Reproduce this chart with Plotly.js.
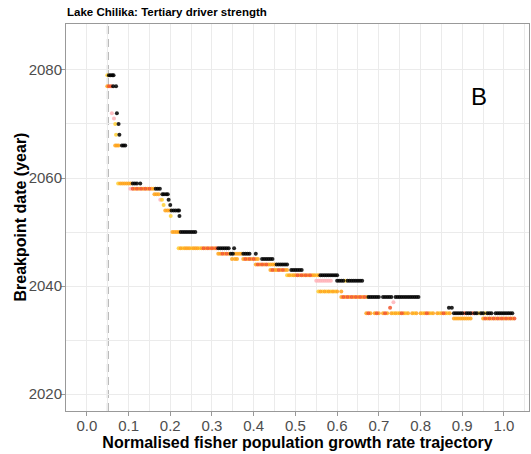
<!DOCTYPE html>
<html>
<head>
<meta charset="utf-8">
<script src="https://cdn.plot.ly/plotly-3.0.1.min.js"></script>
<style>html,body{margin:0;padding:0;background:#fff;}#chart{width:531px;height:454px;}</style>
</head>
<body>
<div id="chart"></div>
<script>
// Breakpoint year rows per driver-strength colour: [year, [x positions]]
const pinkRows = [
  [2072, [0.060]], [2071, [0.065]], [2058, [0.104]], [2056, [0.176]],
  [2041, [0.550, 0.555, 0.560, 0.565, 0.570, 0.575, 0.580, 0.585]],
  [2037, [0.735]]
];
const yellowRows = [
  [2079, [0.049]], [2070, [0.068]], [2068, [0.070]], [2059, [0.075]],
  [2056, [0.180]], [2055, [0.184]], [2053, [0.201]],
  [2047, [0.220, 0.230, 0.250, 0.270]],
  [2042, [0.480, 0.490, 0.550]],
  [2041, [0.620]],
  [2039, [0.555, 0.565, 0.575, 0.585, 0.595]],
  [2035, [0.735, 0.745, 0.765, 0.785, 0.805, 0.825, 0.845, 0.865, 0.940, 0.955]]
];
const orangeRows = [
  [2077, [0.049]],
  [2066, [0.068, 0.072, 0.076]],
  [2059, [0.080, 0.085, 0.090, 0.095, 0.100, 0.105]],
  [2058, [0.115, 0.125, 0.135, 0.145, 0.155, 0.160]],
  [2057, [0.162, 0.167, 0.172]],
  [2054, [0.188, 0.193, 0.198]],
  [2050, [0.205, 0.210, 0.215, 0.220]],
  [2047, [0.225, 0.235, 0.240, 0.245, 0.255, 0.260, 0.265, 0.275, 0.285, 0.295, 0.305]],
  [2046, [0.315, 0.320, 0.330, 0.340, 0.355, 0.360, 0.365, 0.370]],
  [2045, [0.348, 0.355, 0.360, 0.375, 0.385, 0.395, 0.405, 0.410]],
  [2044, [0.405, 0.415, 0.425, 0.435, 0.440, 0.445, 0.450]],
  [2043, [0.440, 0.450, 0.455, 0.465, 0.475, 0.480]],
  [2042, [0.485, 0.495, 0.500, 0.510, 0.520, 0.530, 0.540, 0.545, 0.555]],
  [2039, [0.560, 0.570, 0.580, 0.590, 0.600, 0.610]],
  [2038, [0.610, 0.620, 0.630, 0.640, 0.650, 0.660, 0.670]],
  [2035, [0.670, 0.680, 0.690, 0.700, 0.710, 0.720, 0.730, 0.740, 0.750, 0.760, 0.770, 0.780, 0.790, 0.800, 0.810, 0.820, 0.830, 0.840, 0.850, 0.860, 0.870]],
  [2034, [0.880, 0.885, 0.890, 0.895, 0.900, 0.905, 0.910, 0.915, 0.920, 0.950, 0.960, 0.970, 0.980, 0.990, 1.000, 1.010, 1.020]]
];
const redRows = [
  [2077, [0.053, 0.058]],
  [2058, [0.110, 0.120, 0.130, 0.140, 0.150]],
  [2047, [0.280, 0.290, 0.300, 0.310]],
  [2046, [0.325, 0.335]],
  [2045, [0.380, 0.390, 0.400]],
  [2044, [0.410, 0.420, 0.430]],
  [2043, [0.445, 0.460, 0.470]],
  [2042, [0.505, 0.515, 0.525, 0.535]],
  [2038, [0.615, 0.625, 0.635, 0.645, 0.655, 0.665]],
  [2036, [0.727]],
  [2035, [0.675, 0.695, 0.715, 0.755, 0.815, 0.855, 0.905, 0.925]],
  [2034, [0.955, 0.965, 0.975, 0.985, 0.995, 1.005, 1.015, 1.025]]
];
const blackRows = [
  [2079, [0.053, 0.057, 0.061, 0.064]],
  [2077, [0.063, 0.070]],
  [2072, [0.072]], [2070, [0.076]], [2068, [0.078]],
  [2066, [0.084, 0.088, 0.092]],
  [2059, [0.110, 0.115, 0.120, 0.128]],
  [2058, [0.165, 0.170, 0.175]],
  [2057, [0.181, 0.185, 0.190, 0.194]],
  [2056, [0.196]], [2055, [0.200]],
  [2054, [0.203, 0.208, 0.213, 0.218, 0.221]],
  [2053, [0.222]],
  [2050, [0.225, 0.230, 0.235, 0.240, 0.245, 0.250, 0.255, 0.260]],
  [2047, [0.315, 0.320, 0.325, 0.330, 0.335, 0.340, 0.353]],
  [2046, [0.345, 0.350, 0.375, 0.380, 0.385, 0.390, 0.405]],
  [2045, [0.420, 0.425, 0.430, 0.435, 0.440, 0.445]],
  [2044, [0.455, 0.460, 0.465, 0.470, 0.475, 0.480]],
  [2043, [0.490, 0.495, 0.500, 0.505, 0.510, 0.515]],
  [2042, [0.560, 0.565, 0.570, 0.575, 0.580, 0.585, 0.590, 0.595, 0.600]],
  [2041, [0.600, 0.605, 0.610, 0.615, 0.625, 0.630, 0.635, 0.640, 0.645, 0.650, 0.655, 0.660]],
  [2038, [0.675, 0.680, 0.685, 0.690, 0.695, 0.700, 0.710, 0.715, 0.720, 0.725, 0.730, 0.740, 0.745, 0.750, 0.755, 0.760, 0.765, 0.770, 0.775, 0.780, 0.785, 0.790, 0.795]],
  [2036, [0.868, 0.875]],
  [2035, [0.880, 0.885, 0.890, 0.895, 0.900, 0.910, 0.915, 0.920, 0.930, 0.935, 0.945, 0.950, 0.960, 0.965, 0.970, 0.980, 0.985, 0.990, 0.995, 1.000, 1.005, 1.010, 1.015, 1.020]]
];
const seriesColors = ['#FFB3B8', '#FFCF33', '#FFA31A', '#F2552C', '#000000'];
const seriesRows = [pinkRows, yellowRows, orangeRows, redRows, blackRows];
const xTickVals = [0, 0.1, 0.2, 0.3, 0.4, 0.5, 0.6, 0.7, 0.8, 0.9, 1.0];
const yTickVals = [2020, 2040, 2060, 2080];
const vlineX = 0.05;

function flatten(rows) {
  const xs = [], ys = [];
  rows.forEach(r => r[1].forEach(x => { xs.push(x); ys.push(r[0]); }));
  return {xs, ys};
}

const traces = seriesRows.map((rows, i) => {
  const f = flatten(rows);
  return {
    x: f.xs, y: f.ys, type: 'scatter', mode: 'markers',
    marker: {color: seriesColors[i], size: 4, opacity: 0.85, line: {width: 0}},
    hoverinfo: 'x+y', showlegend: false
  };
});

const gridC = '#EBEBEB';
const plotW = 531 - 66 - 2;
const layout = {
  width: 531, height: 454,
  margin: {l: 66, r: 2, t: 24, b: 43},
  paper_bgcolor: '#fff', plot_bgcolor: '#fff',
  font: {family: 'Liberation Sans, Arial, sans-serif', color: '#000'},
  title: {
    text: '<b>Lake Chilika: Tertiary driver strength</b>',
    font: {size: 11.5, color: '#000'},
    x: 67 / 531, xanchor: 'left', xref: 'container',
    y: 1 - 12 / 454, yanchor: 'middle', yref: 'container'
  },
  xaxis: {
    range: [-0.05, 1.06],
    tickvals: xTickVals, tickformat: '.1f',
    ticks: 'outside', ticklen: 4, tickcolor: '#999',
    ticklabelstandoff: -3,
    tickfont: {size: 15, color: '#4D4D4D'},
    showgrid: true, gridcolor: gridC, gridwidth: 1,
    minor: {dtick: 0.05, showgrid: true, gridcolor: gridC, gridwidth: 1},
    showline: true, linecolor: '#999', linewidth: 1, mirror: true,
    zeroline: false,
    title: {text: '<b>Normalised fisher population growth rate trajectory</b>', font: {size: 16, color: '#000'}, standoff: 0}
  },
  yaxis: {
    range: [2016.9, 2088.5],
    tickvals: yTickVals,
    ticks: 'outside', ticklen: 4, tickcolor: '#999',
    ticklabelstandoff: -4,
    tickfont: {size: 15, color: '#4D4D4D'},
    showgrid: true, gridcolor: gridC, gridwidth: 1,
    minor: {dtick: 10, showgrid: true, gridcolor: gridC, gridwidth: 1},
    showline: true, linecolor: '#999', linewidth: 1, mirror: true,
    zeroline: false
  },
  shapes: [{
    type: 'line', xref: 'x', yref: 'paper', x0: vlineX, x1: vlineX, y0: 0, y1: 1,
    line: {color: '#7A7A7A', width: 1.6, dash: '8px,5px'}, layer: 'below'
  }],
  annotations: [{
    text: 'B', x: 0.94, y: 2075, xref: 'x', yref: 'y', showarrow: false,
    font: {size: 24, color: '#000'}
  }, {
    text: '<b>Breakpoint date (year)</b>', textangle: -90,
    xref: 'paper', yref: 'paper', x: (20 - 66) / plotW, y: 0.5,
    xanchor: 'center', yanchor: 'middle', showarrow: false,
    font: {size: 16, color: '#000'}
  }]
};

Plotly.newPlot('chart', traces, layout, {displayModeBar: false, staticPlot: true});
</script>
</body>
</html>
